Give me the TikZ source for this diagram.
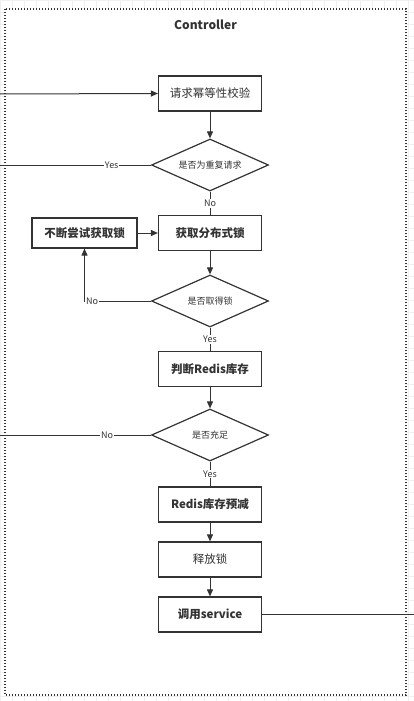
\documentclass[tikz,border=0pt]{standalone}
\usepackage{fontspec}
\setmainfont{Noto Sans CJK SC}
\usetikzlibrary{shapes.geometric,arrows.meta}
\colorlet{lineclr}{black!80}
\colorlet{gridclr}{black!6}

\begin{document}
\begin{tikzpicture}[x=1pt,y=-1pt,
		stepbox/.style={draw=lineclr, line width=1.2pt, fill=white, text=lineclr, minimum width=103pt, minimum height=35pt, inner sep=0pt, font=\fontsize{11.5}{13}\selectfont\bfseries},
		plainbox/.style={stepbox, font=\fontsize{11.5}{13}\selectfont},
		check/.style={draw=lineclr, line width=1.2pt, fill=white, text=lineclr, shape=diamond, aspect=2.25, minimum width=117pt, minimum height=52pt, inner sep=0pt, font=\fontsize{9}{10}\selectfont},
		flow/.style={draw=lineclr, line width=1pt},
		arr/.style={flow, -{Triangle[length=7pt,width=6pt]}},
		answer/.style={fill=white, text=lineclr, inner sep=1pt, font=\fontsize{9}{10}\selectfont}]
	\useasboundingbox (0,0) rectangle (414,701);

	% background grid and container
	\draw[gridclr, step=12pt] (0,0) grid (414,701);
	\draw[lineclr, line width=1.2pt, dash pattern=on 1.3pt off 1.7pt, fill=white] (5,9) rectangle (406,695);
	\node[text=lineclr, font=\fontsize{12}{14}\selectfont\bfseries] (title) at (205.5,25) {Controller};

	% main column
	\node[plainbox] (check) at (210,93.5) {请求幂等性校验};
	\node[check] (repeat) at (210,165) {是否为重复请求};
	\node[stepbox] (lock) at (210,233) {获取分布式锁};
	\node[stepbox, minimum width=105pt, minimum height=30pt] (retry) at (84.5,233) {不断尝试获取锁};
	\node[check] (gotlock) at (210,301) {是否取得锁};
	\node[stepbox] (stock) at (210,369) {判断Redis库存};
	\node[check] (enough) at (210,435) {是否充足};
	\node[stepbox] (decr) at (210,504.5) {Redis库存预减};
	\node[plainbox] (release) at (210,559.5) {释放锁};
	\node[stepbox] (service) at (210,614.5) {调用service};

	% free ends
	\coordinate (in) at (0,94);
	\coordinate (dup) at (0,165);
	\coordinate (short) at (0,435);
	\coordinate (out) at (414,614.5);
	\coordinate (corner) at (84.5,301);

	% connectors
	\draw[arr] (in) -- (check.west);
	\draw[arr] (check) -- (repeat);
	\draw[flow] (repeat) -- (dup) node[answer, pos=0.26] {Yes};
	\draw[flow] (repeat) -- (lock) node[answer, midway] {No};
	\draw[arr] (retry) -- (lock);
	\draw[arr] (lock) -- (gotlock);
	\draw[arr] (gotlock.west) -- (corner) -- (retry.south);
	\node[answer] (nolabel) at (92,301) {No};
	\draw[flow] (gotlock) -- (stock) node[answer, midway] {Yes};
	\draw[arr] (stock) -- (enough);
	\draw[flow] (enough) -- (short) node[answer, pos=0.29] {No};
	\draw[flow] (enough) -- (decr) node[answer, midway] {Yes};
	\draw[arr] (decr) -- (release);
	\draw[arr] (release) -- (service);
	\draw[flow] (service) -- (out);
\end{tikzpicture}
\end{document}
